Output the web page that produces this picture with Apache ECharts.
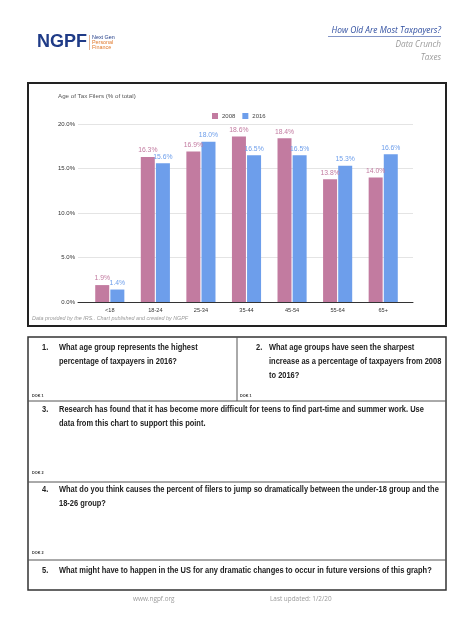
<!DOCTYPE html>
<html><head><meta charset="utf-8">
<script src="https://cdn.jsdelivr.net/npm/echarts@6/dist/echarts.min.js"></script>
<style>html,body{margin:0;padding:0;background:#fff}#c{width:474px;height:632px}</style>
</head><body><div id="c"></div>
<script>
const categories = ['<18','18-24','25-34','35-44','45-54','55-64','65+'];
const values2008 = [1.9, 16.3, 16.9, 18.6, 18.4, 13.8, 14.0];
const values2016 = [1.4, 15.6, 18.0, 16.5, 16.5, 15.3, 16.6];
const seriesNames = ['2008','2016'];
const yTicks = [0, 5, 10, 15, 20];
const chartTitle = 'Age of Tax Filers (% of total)';
const sourceNote = 'Data provided by the IRS.. Chart published and created by NGPF';
const questions = [
  {n:'1.', lines:['What age group represents the highest','percentage of taxpayers in 2016?']},
  {n:'2.', lines:['What age groups have seen the sharpest','increase as a percentage of taxpayers from 2008','to 2016?']},
  {n:'3.', lines:['Research has found that it has become more difficult for teens to find part-time and summer work. Use','data from this chart to support this point.']},
  {n:'4.', lines:['What do you think causes the percent of filers to jump so dramatically between the under-18 group and the','18-26 group?']},
  {n:'5.', lines:['What might have to happen in the US for any dramatic changes to occur in future versions of this graph?']}
];
const dokLabels = ['DOK 1','DOK 1','DOK 2','DOK 2'];

const C08 = '#c27ba0', C16 = '#6d9eeb';
const FF = '"Liberation Sans", Arial, sans-serif';
const QF = 'bold 9px ' + FF;
const QS = 0.83;

const g = [];
function txt(x, y, text, font, fill, extra) {
  g.push(Object.assign({type:'text', x:x, y:y, style:{text:text, font:font, fill:fill, textVerticalAlign:'middle'}}, extra||{}));
}
function line(x1,y1,x2,y2,w,c){ g.push({type:'line', shape:{x1:x1,y1:y1,x2:x2,y2:y2}, style:{stroke:c||'#333', lineWidth:w||1}}); }

// header logo
txt(37, 42, 'NGPF', 'bold 18px ' + FF, '#1f3b87');
line(89.5, 35, 89.5, 50, 0.8, '#d9a27a');
txt(92, 37.5, 'Next Gen', '5.4px ' + FF, '#1f3b87');
txt(92, 42.5, 'Personal', '5.4px ' + FF, '#e07a2e');
txt(92, 47.5, 'Finance', '5.4px ' + FF, '#e07a2e');
// header right
g.push({type:'text', x:441, y:31, style:{text:'How Old Are Most Taxpayers?', font:'italic 8.4px "Open Sans", sans-serif', fill:'#2f4ea0', textAlign:'right', textVerticalAlign:'middle'}});
line(328, 36.5, 441, 36.5, 0.6, '#2f4ea0');
g.push({type:'text', x:441, y:44.5, style:{text:'Data Crunch', font:'italic 8.2px "Open Sans", sans-serif', fill:'#9a9a9a', textAlign:'right', textVerticalAlign:'middle'}});
g.push({type:'text', x:441, y:57.5, style:{text:'Taxes', font:'italic 8.2px "Open Sans", sans-serif', fill:'#9a9a9a', textAlign:'right', textVerticalAlign:'middle'}});

// chart frame
g.push({type:'rect', shape:{x:28, y:83, width:418, height:243}, style:{fill:'none', stroke:'#222', lineWidth:2}});
txt(58, 96.5, chartTitle, '6.2px ' + FF, '#555');
txt(32, 318.5, sourceNote, 'italic 5.4px ' + FF, '#9a9a9a');

// worksheet
g.push({type:'rect', shape:{x:28, y:337, width:418, height:253}, style:{fill:'none', stroke:'#333', lineWidth:1.5}});
line(28, 401, 446, 401, 1, '#555');
line(28, 482, 446, 482, 1, '#555');
line(28, 560, 446, 560, 1, '#555');
line(237, 337, 237, 401, 1, '#555');
const qPos = [[42,59,348],[256,269,348],[42,59,410],[42,59,490],[42,59,571]];
questions.forEach((q,i)=>{
  const p = qPos[i];
  txt(p[0], p[2], q.n, QF, '#222', {scaleX:QS});
  q.lines.forEach((l,j)=>txt(p[1], p[2]+j*14, l, QF, '#222', {scaleX:QS}));
});
const dokPos = [[32,396],[240,396],[32,473],[32,553]];
dokLabels.forEach((d,i)=>txt(dokPos[i][0], dokPos[i][1], d, 'bold 3.8px ' + FF, '#333'));
txt(133, 599, 'www.ngpf.org', '6.4px "Open Sans", sans-serif', '#9a9a9a');
txt(270, 599, 'Last updated: 1/2/20', '6.4px "Open Sans", sans-serif', '#9a9a9a');

const chart = echarts.init(document.getElementById('c'), null, {renderer:'canvas'});
const lbl = c => ({show:true, position:'top', distance:3, fontSize:6.8, color:c, fontFamily:FF, formatter: p => p.value.toFixed(1)+'%'});
const yMin = yTicks[0], yMax = yTicks[yTicks.length-1];
chart.setOption({
  animation:false,
  backgroundColor:'#fff',
  legend:{data:seriesNames, top:108, left:207, itemWidth:6, itemHeight:6, itemGap:7, icon:'rect',
    textStyle:{fontSize:6, color:'#444', fontFamily:FF, padding:[0,0,0,-1]}},
  grid:[
    {left:78, right:61, top:124, bottom:330, containLabel:false},
    {left:87, right:68, top:124, bottom:330, containLabel:false}
  ],
  xAxis:[
    {gridIndex:0, type:'value', min:0, max:1, axisLabel:{show:false}, axisTick:{show:false}, splitLine:{show:false},
      axisLine:{show:true, lineStyle:{color:'#333', width:1}}},
    {gridIndex:1, type:'category', data:categories, axisTick:{show:false}, axisLine:{show:false},
      axisLabel:{fontSize:5.6, color:'#333', margin:5, fontFamily:FF, interval:0}}
  ],
  yAxis:[
    {gridIndex:0, type:'value', min:yMin, max:yMax, interval:5,
      axisLine:{show:false}, axisTick:{show:false},
      splitLine:{lineStyle:{color:'#e4e4e4', width:1}},
      axisLabel:{fontSize:6, color:'#333', margin:3, fontFamily:FF, formatter: v => v.toFixed(1)+'%'}},
    {gridIndex:1, type:'value', min:yMin, max:yMax, interval:5, show:false}
  ],
  series:[
    {name:seriesNames[0], type:'bar', xAxisIndex:1, yAxisIndex:1, data:values2008, barWidth:14, barGap:'8%', itemStyle:{color:C08}, label:lbl(C08)},
    {name:seriesNames[1], type:'bar', xAxisIndex:1, yAxisIndex:1, data:values2016, barWidth:14, itemStyle:{color:C16}, label:lbl(C16)}
  ],
  graphic:g
});
</script></body></html>
